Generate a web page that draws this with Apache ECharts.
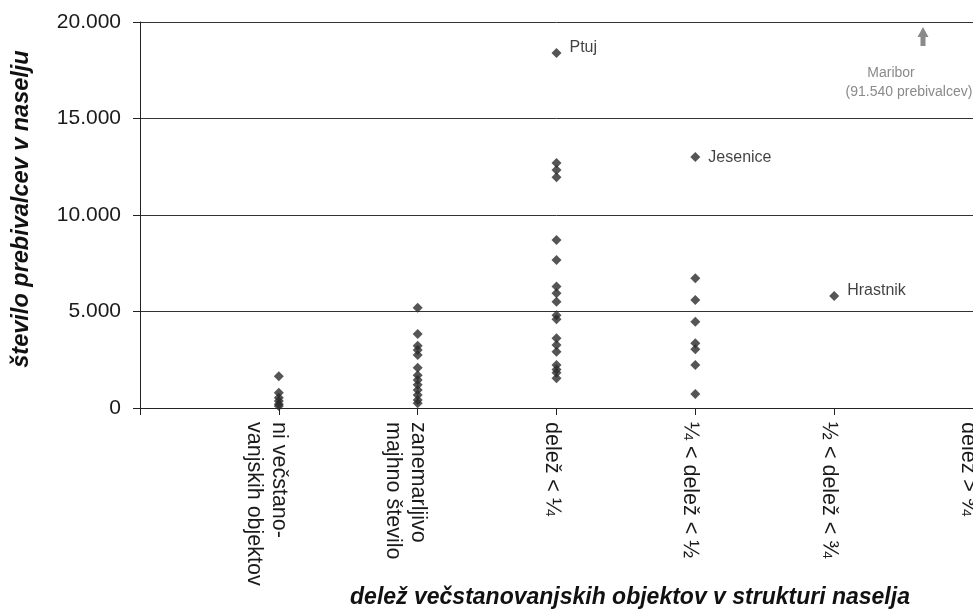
<!DOCTYPE html>
<html>
<head>
<meta charset="utf-8">
<script src="https://cdn.jsdelivr.net/npm/echarts@6/dist/echarts.min.js"></script>
<style>html,body{margin:0;padding:0;background:#fff;overflow:hidden;}#c{width:973px;height:611px;}</style>
</head>
<body>
<div id="c"></div>
<script>
// Category labels (first slot is the empty axis origin)
const categories = ['', 'ni večstano-\nvanjskih objektov', 'zanemarljivo\nmajhno število', 'delež < ¼', '¼ < delež < ½', '½ < delež < ¾', 'delež > ¾'];
const yTicks = [0, 5000, 10000, 15000, 20000];

// Settlement populations per category (unlabelled points)
const valsNone = [1640, 790, 530, 360, 200, 100];
const valsSmall = [5200, 3830, 3230, 3000, 2750, 2090, 1700, 1450, 1200, 930, 670, 420, 250];
const valsQuarter = [12700, 12330, 11950, 8700, 7670, 6300, 5950, 5510, 4800, 4600, 3610, 3260, 2920, 2230, 2000, 1820, 1540];
const valsHalf = [6720, 5600, 4470, 3350, 3050, 2230, 730];
const valsThreeQ = [];
const valsAbove = [];

// Labelled settlements
const labelNames = ['Ptuj', 'Jesenice', 'Hrastnik'];
const labelCats = [3, 4, 5];
const labelValues = [18400, 13000, 5800];
const labelLift = [-5, 0, -5];

const groups = [valsNone, valsSmall, valsQuarter, valsHalf, valsThreeQ, valsAbove];
const points = [];
groups.forEach((arr, gi) => arr.forEach(v => points.push([categories[gi + 1], v])));
const labelled = labelNames.map((n, i) => ({
  name: n, value: [categories[labelCats[i]], labelValues[i]],
  label: { offset: [0, labelLift[i]] }
}));

const catLabel = (s) => {
  if (!s) return '';
  const lines = s.split('\n');
  if (lines.length > 1) return '{t|}\n' + lines.map(l => '{t|' + l + '}').join('\n');
  return '{s| }\n{t|' + s + '}';
};
const FONT = 'Liberation Sans, Arial, sans-serif';

const chart = echarts.init(document.getElementById('c'));
chart.setOption({
  animation: false,
  backgroundColor: '#fff',
  grid: { left: 140, top: 22, right: 0, bottom: 203, containLabel: false, outerBoundsMode: 'none' },
  xAxis: {
    type: 'category',
    data: categories,
    boundaryGap: false,
    axisLine: { show: true, lineStyle: { color: '#222', width: 1 } },
    axisTick: { show: true, inside: false, length: 7, interval: 0, alignWithLabel: true, lineStyle: { color: '#222' } },
    axisLabel: {
      interval: 0, rotate: -90, margin: 14,
      fontFamily: FONT, fontSize: 21.5, lineHeight: 25, color: '#1a1a1a',
      formatter: catLabel, showMinLabel: true, showMaxLabel: true, hideOverlap: false,
      rich: {
        t: { fontFamily: FONT, fontSize: 21.5, lineHeight: 25, color: '#1a1a1a' },
        s: { fontFamily: FONT, fontSize: 4, lineHeight: 10 }
      }
    },
    splitLine: { show: false }
  },
  yAxis: {
    type: 'value', min: 0, max: 20000, interval: 5000,
    axisLine: { show: true, lineStyle: { color: '#222', width: 1 } },
    axisTick: { show: true, inside: false, length: 7, lineStyle: { color: '#222' } },
    axisLabel: {
      margin: 19, fontFamily: FONT, fontSize: 21, color: '#1a1a1a',
      formatter: (v) => (yTicks.indexOf(v) >= 0 ? (v === 0 ? '0' : (v / 1000).toFixed(0) + '.000') : '')
    },
    splitLine: { show: true, lineStyle: { color: '#333', width: 1 } }
  },
  series: [
    {
      type: 'scatter', symbol: 'diamond', symbolSize: 10,
      itemStyle: { color: '#2b2b2b' },
      data: points, z: 3
    },
    {
      type: 'scatter', symbol: 'diamond', symbolSize: 10,
      itemStyle: { color: '#2b2b2b' },
      data: labelled, z: 4,
      label: {
        show: true, position: 'right', distance: 8,
        formatter: '{b}', fontFamily: FONT, fontSize: 16, color: '#111'
      }
    }
  ],
  graphic: [
    { type: 'text', x: 22, y: 209, rotation: Math.PI / 2,
      style: { text: 'število prebivalcev v naselju', font: 'italic bold 23.5px Liberation Sans, Arial, sans-serif', fill: '#111', textAlign: 'center', textVerticalAlign: 'middle' } },
    { type: 'text', x: 630, y: 598,
      style: { text: 'delež večstanovanjskih objektov v strukturi naselja', font: 'italic bold 23px Liberation Sans, Arial, sans-serif', fill: '#111', textAlign: 'center', textVerticalAlign: 'middle' } },
    { type: 'polygon', shape: { points: [[923, 27], [928.5, 37], [925.5, 37], [925.5, 46], [920.5, 46], [920.5, 37], [917.5, 37]] },
      style: { fill: '#8a8a8a' } },
    { type: 'text', x: 891, y: 73,
      style: { text: 'Maribor', font: '14px Liberation Sans, Arial, sans-serif', fill: '#8a8a8a', textAlign: 'center', textVerticalAlign: 'middle' } },
    { type: 'text', x: 909, y: 92,
      style: { text: '(91.540 prebivalcev)', font: '14px Liberation Sans, Arial, sans-serif', fill: '#8a8a8a', textAlign: 'center', textVerticalAlign: 'middle' } }
  ]
});
</script>
</body>
</html>
